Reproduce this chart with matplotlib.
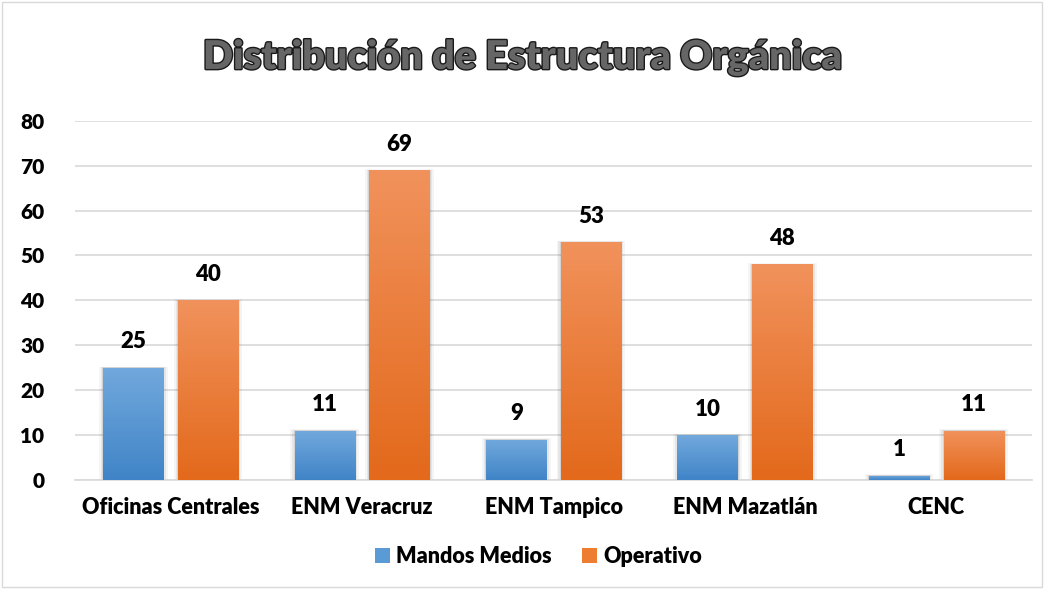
import numpy as np
import matplotlib.pyplot as plt
import matplotlib.patheffects as pe
from matplotlib.patches import Rectangle, Patch
from matplotlib.colors import LinearSegmentedColormap

categories = ["Oficinas Centrales", "ENM Veracruz", "ENM Tampico", "ENM Mazatlán", "CENC"]
mandos_medios = [25, 11, 9, 10, 1]
operativo = [40, 69, 53, 48, 11]
series_names = ["Mandos Medios", "Operativo"]
y_ticks = [0, 10, 20, 30, 40, 50, 60, 70, 80]

plt.rcParams["font.family"] = ["Lato", "DejaVu Sans"]

BLUE_TOP, BLUE_BOT = "#72a9dd", "#4084c7"
ORANGE_TOP, ORANGE_BOT = "#f1925c", "#e3691b"
W = "heavy"

fig = plt.figure(figsize=(10.46, 5.89), dpi=100)
ax = fig.add_axes([0.0717, 0.185, 0.915, 0.61])

x = np.arange(len(categories))
width = 0.315
offset = 0.195


def gradient_bars(xs, vals, top, bot):
    cmap = LinearSegmentedColormap.from_list("g", [bot, top])
    grad = np.linspace(0, 1, 256).reshape(-1, 1)
    for xc, v in zip(xs, vals):
        # soft shadow
        for k, a in [(0.022, 0.04), (0.012, 0.06), (0.005, 0.08)]:
            ax.add_patch(Rectangle((xc - width / 2 - k, 0), width + 2 * k, v + k * 12,
                                   facecolor="#000000", alpha=a, lw=0, zorder=2))
        rect = Rectangle((xc - width / 2, 0), width, v, facecolor="none", lw=0, zorder=3)
        ax.add_patch(rect)
        im = ax.imshow(grad, cmap=cmap, aspect="auto", origin="lower",
                       extent=(xc - width / 2, xc + width / 2, 0, v), zorder=3)
        im.set_clip_path(rect)
        ax.text(xc, v + 3.4, str(v), ha="center", va="bottom", fontsize=16,
                fontweight=W, color="black", zorder=4)


gradient_bars(x - offset, mandos_medios, BLUE_TOP, BLUE_BOT)
gradient_bars(x + offset, operativo, ORANGE_TOP, ORANGE_BOT)

ax.set_xlim(-0.5, len(categories) - 0.5)
ax.set_ylim(0, 80)
ax.set_yticks(y_ticks)
ax.set_yticklabels([str(t) for t in y_ticks], fontsize=15, fontweight=W)
ax.set_xticks(x)
ax.set_xticklabels(categories, fontsize=15.5, fontweight=W)
ax.tick_params(axis="both", length=0)
ax.tick_params(axis="y", pad=22)
ax.tick_params(axis="x", pad=12)
ax.grid(axis="y", color="#d9d9d9", lw=1.2, zorder=0)
ax.set_axisbelow(True)
for s in ["top", "right", "left"]:
    ax.spines[s].set_visible(False)
ax.spines["bottom"].set_color("#d9d9d9")
ax.spines["bottom"].set_linewidth(1.2)

fig.text(0.5, 0.902, "Distribución de Estructura Orgánica", ha="center", va="center",
         fontsize=28.5, fontweight=W, color="#666666",
         path_effects=[pe.Stroke(linewidth=2.0, foreground="#1a1a1a"), pe.Normal()])

handles = [Patch(facecolor="#5b9bd5", edgecolor="none"),
           Patch(facecolor="#ed7d31", edgecolor="none")]
fig.legend(handles, series_names, loc="center", bbox_to_anchor=(0.515, 0.055), ncol=2,
           frameon=False, handlelength=0.7, handleheight=0.7,
           handletextpad=0.3, columnspacing=1.4, prop={"weight": W, "size": 15.5})

fig.patches.append(Rectangle((0.002, 0.004), 0.994, 0.993, transform=fig.transFigure,
                             fill=False, edgecolor="#d9d9d9", lw=1))

fig.savefig("out.png", dpi=100)
